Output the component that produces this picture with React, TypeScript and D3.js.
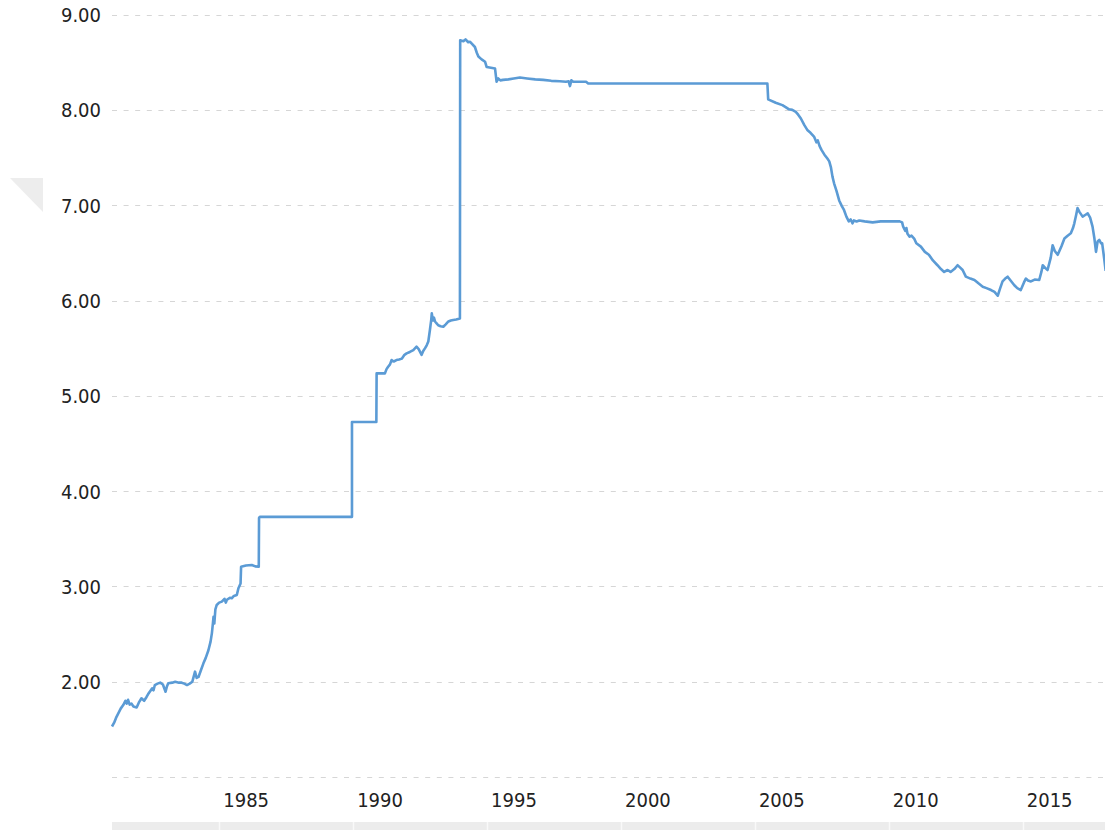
import React, { useEffect, useRef } from 'react';
import * as d3 from 'd3';

// USD/CNY, decimal year -> rate
const early80s: [number, number][] = [
  [1981.0, 1.53], [1981.08, 1.57], [1981.15, 1.62], [1981.24, 1.67], [1981.33, 1.72],
  [1981.42, 1.755], [1981.5, 1.8], [1981.55, 1.77], [1981.6, 1.81], [1981.66, 1.76],
  [1981.73, 1.77], [1981.8, 1.74], [1981.92, 1.73], [1982.0, 1.78], [1982.1, 1.826],
  [1982.2, 1.8], [1982.29, 1.84], [1982.35, 1.87], [1982.41, 1.895], [1982.5, 1.93],
  [1982.55, 1.91], [1982.6, 1.965], [1982.7, 1.98], [1982.8, 1.99], [1982.9, 1.97],
  [1983.0, 1.895], [1983.05, 1.95], [1983.1, 1.983], [1983.25, 1.99], [1983.36, 2.0],
  [1983.5, 1.99], [1983.6, 1.99], [1983.7, 1.98], [1983.8, 1.965], [1983.9, 1.98],
  [1984.0, 2.0], [1984.1, 2.105], [1984.16, 2.04], [1984.23, 2.05], [1984.32, 2.12],
  [1984.41, 2.19], [1984.5, 2.25], [1984.6, 2.33], [1984.68, 2.42], [1984.73, 2.51],
  [1984.77, 2.62], [1984.79, 2.68], [1984.82, 2.61], [1984.86, 2.76], [1984.91, 2.805],
  [1985.0, 2.83], [1985.1, 2.84], [1985.2, 2.87], [1985.25, 2.83], [1985.29, 2.86],
  [1985.4, 2.88], [1985.47, 2.875], [1985.55, 2.9], [1985.66, 2.91], [1985.72, 2.98],
  [1985.8, 3.03], [1985.82, 3.207], [1986.0, 3.22], [1986.22, 3.225], [1986.35, 3.21],
  [1986.48, 3.207],
];

const stepEra: [number, number][] = [
  [1986.49, 3.72], [1986.52, 3.73], [1989.96, 3.73], [1989.96, 4.725], [1990.87, 4.725],
  [1990.88, 5.235], [1991.19, 5.235], [1991.25, 5.28], [1991.31, 5.305], [1991.38, 5.33],
  [1991.44, 5.375], [1991.52, 5.36], [1991.62, 5.375], [1991.72, 5.38], [1991.82, 5.39],
  [1991.92, 5.43], [1992.0, 5.445], [1992.12, 5.46], [1992.25, 5.48], [1992.37, 5.515],
  [1992.45, 5.49], [1992.56, 5.43], [1992.62, 5.47], [1992.69, 5.5], [1992.75, 5.53],
  [1992.81, 5.57], [1992.87, 5.69], [1992.92, 5.8], [1992.94, 5.865], [1992.98, 5.79],
  [1993.02, 5.82], [1993.06, 5.78], [1993.12, 5.76], [1993.18, 5.74], [1993.27, 5.73],
  [1993.37, 5.725], [1993.46, 5.75], [1993.56, 5.78], [1993.65, 5.79], [1993.74, 5.795],
  [1993.85, 5.8], [1993.99, 5.81],
];

const pegEra: [number, number][] = [
  [1994.0, 8.73], [1994.12, 8.72], [1994.2, 8.74], [1994.3, 8.71], [1994.37, 8.715],
  [1994.45, 8.69], [1994.55, 8.66], [1994.62, 8.6], [1994.68, 8.56], [1994.8, 8.53],
  [1994.93, 8.505], [1994.99, 8.45], [1995.2, 8.44], [1995.3, 8.435], [1995.36, 8.295],
  [1995.42, 8.33], [1995.5, 8.31], [1995.6, 8.315], [1995.8, 8.32], [1996.0, 8.33],
  [1996.23, 8.34], [1996.5, 8.33], [1996.8, 8.32], [1997.1, 8.315], [1997.4, 8.305],
  [1997.72, 8.3], [1997.95, 8.295], [1998.05, 8.3], [1998.1, 8.25], [1998.15, 8.31],
  [1998.22, 8.295], [1998.7, 8.295], [1998.78, 8.277], [2005.47, 8.277],
];

const floatEra: [number, number][] = [
  [2005.5, 8.11], [2005.54, 8.105], [2005.78, 8.075], [2006.03, 8.05], [2006.15, 8.03],
  [2006.28, 8.006], [2006.4, 8.0], [2006.53, 7.98], [2006.62, 7.95], [2006.72, 7.91],
  [2006.85, 7.84], [2006.96, 7.79], [2007.08, 7.76], [2007.21, 7.72], [2007.3, 7.66],
  [2007.35, 7.68], [2007.42, 7.62], [2007.49, 7.58], [2007.6, 7.53], [2007.71, 7.49],
  [2007.78, 7.46], [2007.84, 7.4], [2007.9, 7.3], [2007.96, 7.23], [2008.05, 7.15],
  [2008.15, 7.05], [2008.25, 6.99], [2008.33, 6.95], [2008.42, 6.88], [2008.51, 6.83],
  [2008.58, 6.85], [2008.65, 6.81], [2008.7, 6.84], [2008.8, 6.83], [2008.9, 6.84],
  [2009.1, 6.83], [2009.4, 6.82], [2009.7, 6.83], [2010.0, 6.83], [2010.41, 6.83],
  [2010.5, 6.82], [2010.54, 6.775], [2010.62, 6.73], [2010.66, 6.76], [2010.7, 6.7],
  [2010.78, 6.67], [2010.85, 6.68], [2010.95, 6.65], [2011.03, 6.6], [2011.2, 6.565],
  [2011.35, 6.51], [2011.5, 6.48], [2011.65, 6.42], [2011.82, 6.37], [2011.95, 6.33],
  [2012.07, 6.3], [2012.2, 6.32], [2012.31, 6.3], [2012.45, 6.33], [2012.57, 6.37],
  [2012.65, 6.35], [2012.76, 6.32], [2012.88, 6.25], [2013.05, 6.23], [2013.2, 6.215],
  [2013.35, 6.18], [2013.51, 6.145], [2013.65, 6.13], [2013.82, 6.11], [2013.95, 6.09],
  [2014.07, 6.05], [2014.15, 6.12], [2014.25, 6.2], [2014.35, 6.23], [2014.44, 6.25],
  [2014.55, 6.21], [2014.69, 6.16], [2014.8, 6.13], [2014.93, 6.11], [2015.05, 6.19],
  [2015.12, 6.23], [2015.2, 6.21], [2015.31, 6.2], [2015.45, 6.22], [2015.62, 6.215],
  [2015.7, 6.3], [2015.75, 6.37], [2015.85, 6.34], [2015.93, 6.32], [2016.05, 6.45],
  [2016.12, 6.58], [2016.2, 6.52], [2016.31, 6.48], [2016.45, 6.57], [2016.56, 6.65],
  [2016.68, 6.68], [2016.8, 6.705], [2016.88, 6.76], [2016.93, 6.81], [2017.0, 6.9],
  [2017.05, 6.97], [2017.12, 6.93], [2017.24, 6.88], [2017.35, 6.9], [2017.43, 6.915],
  [2017.52, 6.87], [2017.61, 6.775], [2017.68, 6.65], [2017.74, 6.51], [2017.8, 6.62],
  [2017.86, 6.635], [2017.93, 6.6], [2017.97, 6.6], [2018.04, 6.45], [2018.1, 6.31],
];

const yTicks = [1, 2, 3, 4, 5, 6, 7, 8, 9];
const yearTicks = [1985, 1990, 1995, 2000, 2005, 2010, 2015];

function App() {
  const svgRef = useRef<SVGSVGElement>(null);

  useEffect(() => {
    const svg = d3.select(svgRef.current);
    svg.selectAll('*').remove();

    const width = 1105;
    const height = 830;
    const left = 112;
    const font = "'DejaVu Sans Condensed', 'DejaVu Sans', sans-serif";

    const x = d3.scaleLinear().domain([1981, 2018.15]).range([left, 1107]);
    const y = d3.scaleLinear().domain([1, 9]).range([777, 14.6]);

    svg.attr('width', width).attr('height', height);

    // corner triangle
    svg.append('path')
      .attr('d', 'M10,178L43,178L43,212Z')
      .attr('fill', '#ededed');

    // grid
    svg.append('g')
      .selectAll('line')
      .data(yTicks)
      .join('line')
      .attr('x1', left)
      .attr('x2', width)
      .attr('y1', (d) => Math.round(y(d)) + 0.5)
      .attr('y2', (d) => Math.round(y(d)) + 0.5)
      .attr('stroke', '#d6d6d6')
      .attr('stroke-width', 1)
      .attr('stroke-dasharray', '5,6.6');

    svg.append('g')
      .selectAll('text')
      .data(yTicks.filter((d) => d > 1))
      .join('text')
      .attr('x', 101)
      .attr('y', (d) => y(d) + 2)
      .attr('text-anchor', 'end')
      .attr('dominant-baseline', 'middle')
      .attr('font-family', font)
      .attr('font-stretch', 'condensed')
      .attr('font-size', 20)
      .attr('fill', '#222')
      .text((d) => d3.format('.2f')(d));

    // year labels sit to the right of their tick
    svg.append('g')
      .selectAll('text')
      .data(yearTicks)
      .join('text')
      .attr('x', (d) => x(d) + 27)
      .attr('y', 801)
      .attr('text-anchor', 'middle')
      .attr('dominant-baseline', 'middle')
      .attr('font-family', font)
      .attr('font-stretch', 'condensed')
      .attr('font-size', 20)
      .attr('fill', '#222')
      .text((d) => d);

    // scrollbar strip at the bottom
    svg.append('rect')
      .attr('x', left)
      .attr('y', 822)
      .attr('width', width - left)
      .attr('height', 8)
      .attr('fill', '#ececec');

    svg.append('g')
      .selectAll('line')
      .data(yearTicks)
      .join('line')
      .attr('x1', (d) => Math.round(x(d)) + 0.5)
      .attr('x2', (d) => Math.round(x(d)) + 0.5)
      .attr('y1', 822)
      .attr('y2', 830)
      .attr('stroke', '#f9f9f9')
      .attr('stroke-width', 1.5);

    const data = [...early80s, ...stepEra, ...pegEra, ...floatEra];

    const line = d3.line<[number, number]>()
      .x((d) => x(d[0]))
      .y((d) => y(d[1]));

    svg.append('path')
      .datum(data)
      .attr('fill', 'none')
      .attr('stroke', '#5b9bd5')
      .attr('stroke-width', 2.6)
      .attr('stroke-linejoin', 'round')
      .attr('d', line);
  }, []);

  return (
    <svg
      ref={svgRef}
      style={{ position: 'absolute', left: 0, top: 0, background: '#fff' }}
    ></svg>
  );
}

export default App;
